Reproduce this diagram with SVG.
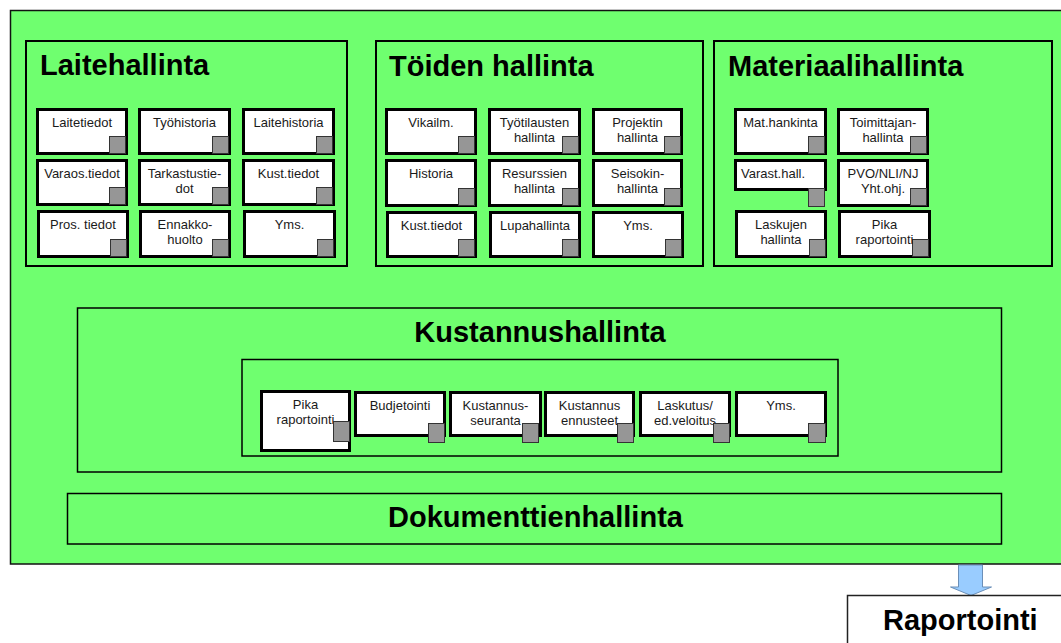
<svg xmlns="http://www.w3.org/2000/svg" width="1061" height="643" viewBox="0 0 1061 643">
<style>
.sec{fill:#6fff6f;stroke:#000;stroke-width:2}
.sec2{fill:#6fff6f;stroke:#000;stroke-width:1.5}
.b{fill:#fff;stroke:#000;stroke-width:3}
.g{fill:#969696;stroke:#333;stroke-width:1}
.t{font-family:"Liberation Sans",Arial,sans-serif;font-size:13px;fill:#1a1a1a;text-anchor:middle}
.h{font-family:"Liberation Sans",Arial,sans-serif;font-size:29px;font-weight:bold;fill:#000}
</style>
<rect width="1061" height="643" fill="#fff"/>
<g id="main">
<rect x="10.5" y="10.5" width="1060" height="553.5" fill="#6fff6f" stroke="#111" stroke-width="1.5"/>
</g>

<g id="laitehallinta">
<rect class="sec" x="26" y="41" width="321" height="225"/>
<text class="h" x="40" y="75">Laitehallinta</text>
<g id="l1"><rect class="b" x="37.5" y="109.5" width="89" height="44"/><rect class="g" x="109.5" y="136.5" width="16" height="17"/><text class="t" x="82" y="127">Laitetiedot</text></g>
<g id="l2"><rect class="b" x="139.5" y="109.5" width="90" height="44"/><rect class="g" x="212.5" y="136.5" width="16" height="17"/><text class="t" x="184.5" y="127">Työhistoria</text></g>
<g id="l3"><rect class="b" x="243.5" y="109.5" width="90" height="44"/><rect class="g" x="316.5" y="136.5" width="16" height="17"/><text class="t" x="288.5" y="127">Laitehistoria</text></g>
<g id="l4"><rect class="b" x="37.5" y="160.5" width="89" height="44"/><rect class="g" x="109.5" y="187.5" width="16" height="17"/><text class="t" x="82" y="178">Varaos.tiedot</text></g>
<g id="l5"><rect class="b" x="139.5" y="160.5" width="90" height="44"/><rect class="g" x="212.5" y="187.5" width="16" height="17"/><text class="t" x="184.5" y="178">Tarkastustie-</text><text class="t" x="184.5" y="193">dot</text></g>
<g id="l6"><rect class="b" x="243.5" y="160.5" width="90" height="44"/><rect class="g" x="316.5" y="187.5" width="16" height="17"/><text class="t" x="288.5" y="178">Kust.tiedot</text></g>
<g id="l7"><rect class="b" x="38.5" y="211.5" width="89" height="45"/><rect class="g" x="110.5" y="239.5" width="16" height="17"/><text class="t" x="83" y="229">Pros. tiedot</text></g>
<g id="l8"><rect class="b" x="140.5" y="211.5" width="89" height="45"/><rect class="g" x="212.5" y="239.5" width="16" height="17"/><text class="t" x="185" y="229">Ennakko-</text><text class="t" x="185" y="244">huolto</text></g>
<g id="l9"><rect class="b" x="244.5" y="211.5" width="90" height="45"/><rect class="g" x="317.5" y="239.5" width="16" height="17"/><text class="t" x="289.5" y="229">Yms.</text></g>
</g>

<g id="toiden">
<rect class="sec" x="376" y="41" width="327" height="225"/>
<text class="h" x="389" y="76">Töiden hallinta</text>
<g id="t1"><rect class="b" x="386.5" y="109.5" width="89" height="44"/><rect class="g" x="458.5" y="136.5" width="16" height="17"/><text class="t" x="431" y="127">Vikailm.</text></g>
<g id="t2"><rect class="b" x="489.5" y="109.5" width="90" height="44"/><rect class="g" x="562.5" y="136.5" width="16" height="17"/><text class="t" x="534.5" y="127">Työtilausten</text><text class="t" x="534.5" y="142">hallinta</text></g>
<g id="t3"><rect class="b" x="593.5" y="109.5" width="88" height="44"/><rect class="g" x="664.5" y="136.5" width="16" height="17"/><text class="t" x="637.5" y="127">Projektin</text><text class="t" x="637.5" y="142">hallinta</text></g>
<g id="t4"><rect class="b" x="386.5" y="160.5" width="89" height="45"/><rect class="g" x="458.5" y="188.5" width="16" height="17"/><text class="t" x="431" y="178">Historia</text></g>
<g id="t5"><rect class="b" x="489.5" y="160.5" width="90" height="45"/><rect class="g" x="562.5" y="188.5" width="16" height="17"/><text class="t" x="534.5" y="178">Resurssien</text><text class="t" x="534.5" y="193">hallinta</text></g>
<g id="t6"><rect class="b" x="593.5" y="160.5" width="88" height="45"/><rect class="g" x="664.5" y="188.5" width="16" height="17"/><text class="t" x="637.5" y="178">Seisokin-</text><text class="t" x="637.5" y="193">hallinta</text></g>
<g id="t7"><rect class="b" x="387.5" y="212.5" width="88" height="44"/><rect class="g" x="458.5" y="239.5" width="16" height="17"/><text class="t" x="431.5" y="230">Kust.tiedot</text></g>
<g id="t8"><rect class="b" x="490.5" y="212.5" width="89" height="44"/><rect class="g" x="562.5" y="239.5" width="16" height="17"/><text class="t" x="535" y="230">Lupahallinta</text></g>
<g id="t9"><rect class="b" x="593.5" y="212.5" width="89" height="44"/><rect class="g" x="665.5" y="239.5" width="16" height="17"/><text class="t" x="638" y="230">Yms.</text></g>
</g>

<g id="materiaali">
<rect class="sec" x="714" y="41" width="338" height="225"/>
<text class="h" x="728" y="76">Materiaalihallinta</text>
<g id="m1"><rect class="b" x="735.5" y="109.5" width="90" height="44"/><rect class="g" x="808.5" y="136.5" width="16" height="17"/><text class="t" x="780.5" y="127">Mat.hankinta</text></g>
<g id="m2"><rect class="b" x="838.5" y="109.5" width="89" height="44"/><rect class="g" x="910.5" y="136.5" width="16" height="17"/><text class="t" x="883" y="127">Toimittajan-</text><text class="t" x="883" y="142">hallinta</text></g>
<g id="m3"><rect class="b" x="735.5" y="160.5" width="90" height="29"/><rect class="g" x="808.5" y="188.5" width="16" height="18"/><text class="t" x="741" y="178" style="text-anchor:start">Varast.hall.</text></g>
<g id="m4"><rect class="b" x="838.5" y="160.5" width="89" height="45"/><rect class="g" x="910.5" y="188.5" width="16" height="17"/><text class="t" x="883" y="178">PVO/NLI/NJ</text><text class="t" x="883" y="193">Yht.ohj.</text></g>
<g id="m5"><rect class="b" x="736.5" y="211.5" width="89" height="45"/><rect class="g" x="809.5" y="239.5" width="16" height="17"/><text class="t" x="781" y="229">Laskujen</text><text class="t" x="781" y="244">hallinta</text></g>
<g id="m6"><rect class="b" x="839.5" y="211.5" width="90" height="45"/><rect class="g" x="912.5" y="239.5" width="16" height="17"/><text class="t" x="884.5" y="229">Pika</text><text class="t" x="884.5" y="244">raportointi</text></g>
</g>

<g id="kustannushallinta">
<rect class="sec2" x="77.5" y="308" width="924" height="164"/>
<text class="h" x="540" y="342" style="text-anchor:middle">Kustannushallinta</text>
<rect class="sec2" x="242" y="359.5" width="596" height="96.5"/>
<g id="k1"><rect class="b" x="261.5" y="391.5" width="88" height="59"/><text class="t" x="305.5" y="409">Pika</text><text class="t" x="305.5" y="424">raportointi</text><rect class="g" x="333.5" y="421.5" width="16" height="20"/></g>
<g id="k2"><rect class="b" x="355.5" y="392.5" width="89" height="43"/><rect class="g" x="428.5" y="423.5" width="16" height="19"/><text class="t" x="400" y="410">Budjetointi</text></g>
<g id="k3"><rect class="b" x="450.5" y="392.5" width="90" height="43"/><text class="t" x="495.5" y="410">Kustannus-</text><text class="t" x="495.5" y="425">seuranta</text><rect class="g" x="522.5" y="423.5" width="16" height="19"/></g>
<g id="k4"><rect class="b" x="545.5" y="392.5" width="88" height="43"/><text class="t" x="589.5" y="410">Kustannus</text><text class="t" x="589.5" y="425">ennusteet</text><rect class="g" x="617.5" y="423.5" width="16" height="19"/></g>
<g id="k5"><rect class="b" x="640.5" y="392.5" width="89" height="43"/><text class="t" x="685" y="410">Laskutus/</text><text class="t" x="685" y="425">ed.veloitus</text><rect class="g" x="713.5" y="423.5" width="16" height="19"/></g>
<g id="k6"><rect class="b" x="736.5" y="392.5" width="89" height="43"/><rect class="g" x="808.5" y="423.5" width="17" height="19"/><text class="t" x="781" y="410">Yms.</text></g>
</g>

<g id="dokumenttienhallinta">
<rect class="sec2" x="67.5" y="493.5" width="934" height="50.5"/>
<text class="h" x="535.5" y="527" style="text-anchor:middle">Dokumenttienhallinta</text>
</g>

<g id="connectors">
<polygon points="958.5,565 982.5,565 982.5,587 991.5,587 971,595.5 950.5,587 958.5,587" fill="#99ccff" stroke="#6b8fb8" stroke-width="1"/>
</g>

<g id="raportointi">
<rect x="847.5" y="595.5" width="220" height="60" fill="#fff" stroke="#222" stroke-width="1.5"/>
<text class="h" x="883" y="630">Raportointi</text>
</g>
</svg>
